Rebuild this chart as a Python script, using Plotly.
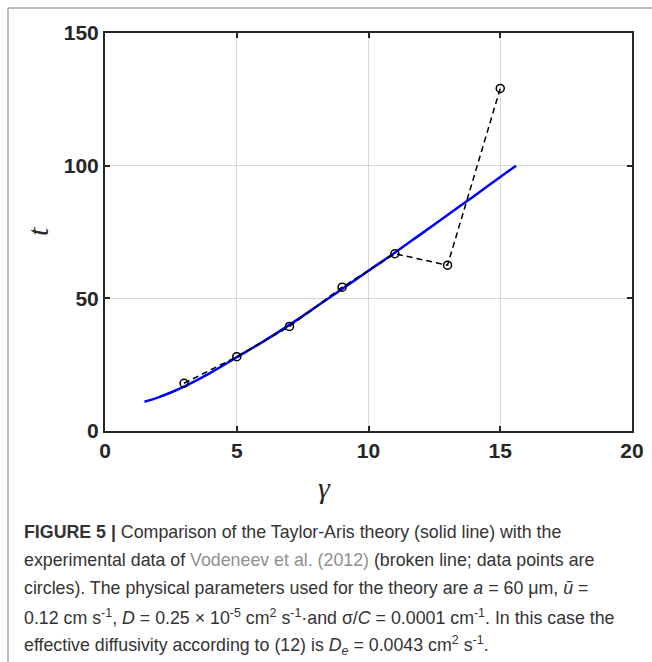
import plotly.graph_objects as go

# ---- data ----
gamma_data = [3, 5, 7, 9, 11, 13, 15]
t_data = [18.0, 28.0, 39.4, 54.2, 66.8, 62.5, 129.1]

gamma_theory = [1.5, 2, 2.5, 3, 4, 5, 6, 7, 8, 9, 10, 11, 12, 13, 14, 15, 15.6]
t_theory = [11.0, 12.6, 14.5, 16.7, 21.9, 27.8, 33.7, 40.0, 46.7, 53.5, 60.4, 67.2, 74.3, 81.4, 88.5, 95.7, 100.0]

x_ticks = [0, 5, 10, 15, 20]
y_ticks = [0, 50, 100, 150]

caption_lines = [
    "<b>FIGURE 5 |</b> Comparison of the Taylor-Aris theory (solid line) with the",
    "experimental data of <span style='color:#8f8f8f'>Vodeneev et al. (2012)</span> (broken line; data points are",
    "circles). The physical parameters used for the theory are <i>a</i> = 60 μm, <i>ū</i> =",
    "0.12 cm s<sup>-1</sup>, <i>D</i> = 0.25 × 10<sup>-5</sup> cm<sup>2</sup> s<sup>-1</sup>·and σ/<i>C</i> = 0.0001 cm<sup>-1</sup>. In this case the",
    "effective diffusivity according to (12) is <i>D<sub>e</sub></i> = 0.0043 cm<sup>2</sup> s<sup>-1</sup>.",
]

# ---- layout geometry (pixels) ----
W, H = 652, 662
L, R, T, B = 105, 632, 33, 431


def px(xp):
    return (xp - L) / (R - L)


def py(yp):
    return (B - yp) / (B - T)


fig = go.Figure()

fig.add_trace(go.Scatter(
    x=gamma_theory, y=t_theory, mode="lines",
    line=dict(color="#0000ff", width=2.5, shape="spline", smoothing=0.8),
    showlegend=False, hoverinfo="skip",
))
fig.add_trace(go.Scatter(
    x=gamma_data, y=t_data, mode="lines+markers",
    line=dict(color="black", width=1.5, dash="6px,4px"),
    marker=dict(symbol="circle-open", size=8, color="black", line=dict(width=1.5)),
    showlegend=False, hoverinfo="skip",
))

axis_common = dict(
    showline=True, linecolor="#262626", linewidth=2, mirror="allticks",
    ticks="inside", ticklen=5, tickwidth=1.5, tickcolor="#262626",
    showgrid=True, gridcolor="#d6d6d6", gridwidth=1, zeroline=False,
    tickfont=dict(family="Liberation Sans", size=21, color="#262626", weight="bold"),
)

fig.update_xaxes(range=[0, 20], tickvals=x_ticks, ticktext=[str(v) for v in x_ticks], **axis_common)
fig.update_yaxes(range=[0, 150], tickvals=y_ticks, ticktext=[str(v) for v in y_ticks], **axis_common)

annotations = [
    dict(x=px(324), y=py(487), xref="paper", yref="paper", text="<i>γ</i>", showarrow=False,
         font=dict(family="Liberation Serif", size=30, color="#262626"), xanchor="center", yanchor="middle"),
    dict(x=px(37), y=py(232), xref="paper", yref="paper", text="<i>t</i>", showarrow=False, textangle=-90,
         font=dict(family="Liberation Serif", size=30, color="#262626"), xanchor="center", yanchor="middle"),
]
caption_y = [532, 560, 588, 617, 645]
for text, yc in zip(caption_lines, caption_y):
    annotations.append(dict(
        x=px(22), y=py(yc), xref="paper", yref="paper", text=text, showarrow=False,
        xanchor="left", yanchor="middle", align="left",
        font=dict(family="Liberation Sans", size=17.8, color="#333333"),
    ))

shapes = [
    dict(type="line", xref="paper", yref="paper", x0=px(8), x1=px(652), y0=py(8), y1=py(8),
         line=dict(color="#a8a8a8", width=1.5)),
    dict(type="line", xref="paper", yref="paper", x0=px(8), x1=px(8), y0=py(8), y1=py(662),
         line=dict(color="#a8a8a8", width=1.5)),
]

fig.update_layout(
    width=W, height=H,
    margin=dict(l=L, r=W - R, t=T, b=H - B, autoexpand=False),
    paper_bgcolor="white", plot_bgcolor="white",
    annotations=annotations, shapes=shapes,
)

fig.write_html("out.html")
